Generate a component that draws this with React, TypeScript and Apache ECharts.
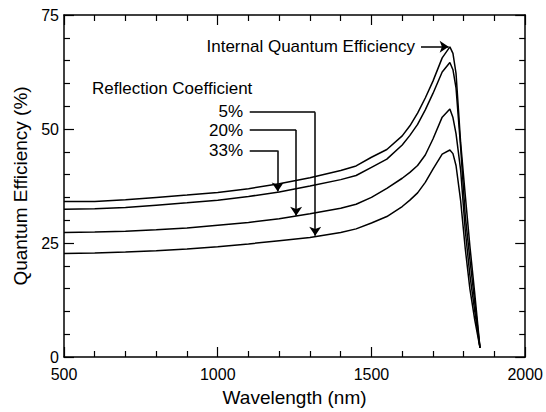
import React, { useEffect, useRef } from "react";
import * as echarts from "echarts";

// Wavelength samples (nm)
const wavelengths = [500, 600, 700, 800, 900, 1000, 1100, 1200, 1300, 1400, 1450, 1500, 1550, 1600, 1625, 1650, 1675, 1700, 1730, 1755, 1765, 1775, 1790, 1805, 1820, 1835, 1853];

// Internal quantum efficiency (%)
const internalQE = [34.1, 34.1, 34.5, 35.0, 35.5, 36.1, 36.9, 38.0, 39.3, 40.9, 41.9, 43.8, 45.5, 48.5, 50.7, 53.5, 56.8, 60.5, 65.6, 68.0, 66.6, 62.2, 47.0, 35.5, 24.4, 14.5, 2.0];
// Curves labelled by the reflection-coefficient arrows (%)
const curve33 = [32.4, 32.5, 32.8, 33.3, 33.8, 34.4, 35.2, 36.2, 37.5, 38.9, 39.8, 41.6, 43.4, 46.5, 48.6, 51.0, 54.2, 57.8, 62.5, 64.6, 63.0, 59.0, 46.0, 31.0, 21.5, 12.5, 2.0];
const curve20 = [27.3, 27.4, 27.6, 27.9, 28.3, 28.9, 29.5, 30.3, 31.4, 32.6, 33.5, 35.0, 37.0, 39.2, 40.5, 42.0, 44.3, 47.8, 52.6, 54.4, 52.5, 49.0, 41.0, 27.8, 18.0, 10.5, 2.0];
const curve5 = [22.7, 22.8, 23.0, 23.3, 23.7, 24.2, 24.8, 25.5, 26.2, 27.3, 28.1, 29.4, 30.8, 33.0, 34.4, 36.0, 38.3, 41.2, 44.5, 45.4, 44.6, 42.0, 34.3, 23.8, 15.0, 8.5, 2.0];

// Annotation arrows in data coordinates: [start, corner, tip]
const arrow5 = [[1104, 53.7], [1317, 53.7], [1317, 26.6]];
const arrow20 = [[1104, 49.8], [1255, 49.8], [1255, 31.0]];
const arrow33 = [[1104, 45.3], [1195, 45.3], [1195, 36.3]];
const arrowIQE = [[1661, 68.05], [1751, 68.05]];

const FONT = "Arial, 'Liberation Sans', Helvetica, sans-serif";

function pairs(vals: number[]) {
  return wavelengths.map((w, i) => [w, vals[i]]);
}

export default function App() {
  const ref = useRef<HTMLDivElement>(null);
  useEffect(() => {
    document.body.style.margin = "0";
    if (!ref.current) return;
    const chart = echarts.init(ref.current, null, { renderer: "svg" });
    const axisCommon = {
      type: "value" as const,
      axisLine: { show: true, onZero: false, lineStyle: { color: "#000", width: 1.5 } },
      axisTick: { show: true, inside: true, length: 10, lineStyle: { color: "#000", width: 1.2 } },
      minorTick: { show: true, splitNumber: 5, length: 6, lineStyle: { color: "#000", width: 1.2 } },
      splitLine: { show: false },
      minorSplitLine: { show: false },
    };
    const lineSeries = (name: string, vals: number[]) => ({
      name,
      type: "line",
      data: pairs(vals),
      showSymbol: false,
      symbol: "none",
      lineStyle: { color: "#000", width: 1.5 },
      silent: true,
    });
    const segs = (pts: number[][]) => {
      const out: { coords: number[][] }[] = [];
      for (let i = 0; i < pts.length - 2; i++) out.push({ coords: [pts[i], pts[i + 1]] });
      return out;
    };
    const lastSeg = (pts: number[][]) => ({ coords: [pts[pts.length - 2], pts[pts.length - 1]] });
    chart.setOption({
      animation: false,
      grid: { left: 64, right: 20, top: 15, bottom: 55 },
      xAxis: [
        {
          ...axisCommon,
          position: "bottom",
          min: 500,
          max: 2000,
          interval: 500,
          axisLabel: { color: "#000", fontSize: 16, fontFamily: FONT, margin: 9, formatter: (v: number) => String(v) },
          name: "Wavelength (nm)",
          nameLocation: "middle",
          nameGap: 31,
          nameTextStyle: { color: "#000", fontSize: 19, fontFamily: FONT },
        },
        {
          ...axisCommon,
          position: "top",
          min: 500,
          max: 2000,
          interval: 500,
          axisLabel: { show: false },
        },
      ],
      yAxis: [
        {
          ...axisCommon,
          position: "left",
          min: 0,
          max: 75,
          interval: 25,
          axisLabel: { color: "#000", fontSize: 16, fontFamily: FONT, margin: 5, padding: [0, 0, 2, 0], formatter: (v: number) => String(v) },
          name: "Quantum Efficiency (%)",
          nameLocation: "middle",
          nameGap: 32,
          nameTextStyle: { color: "#000", fontSize: 19, fontFamily: FONT },
        },
        {
          ...axisCommon,
          position: "right",
          min: 0,
          max: 75,
          interval: 25,
          axisLabel: { show: false },
        },
      ],
      series: [
        lineSeries("Internal Quantum Efficiency", internalQE),
        lineSeries("33%", curve33),
        lineSeries("20%", curve20),
        lineSeries("5%", curve5),
        {
          type: "lines",
          coordinateSystem: "cartesian2d",
          silent: true,
          symbol: "none",
          lineStyle: { color: "#000", width: 1.5, opacity: 1 },
          data: [...segs(arrow5), ...segs(arrow20), ...segs(arrow33)],
        },
        {
          type: "lines",
          coordinateSystem: "cartesian2d",
          silent: true,
          symbol: ["none", "arrow"],
          symbolSize: 9,
          lineStyle: { color: "#000", width: 1.5, opacity: 1 },
          data: [lastSeg(arrow5), lastSeg(arrow20), lastSeg(arrow33), lastSeg(arrowIQE)],
        },
      ],
      graphic: [
        { type: "text", x: 415, y: 46.5, style: { text: "Internal Quantum Efficiency", font: `17px ${FONT}`, fill: "#000", align: "right", verticalAlign: "middle" } },
        { type: "text", x: 92, y: 88.5, style: { text: "Reflection Coefficient", font: `17px ${FONT}`, fill: "#000", align: "left", verticalAlign: "middle" } },
        { type: "text", x: 243, y: 111, style: { text: "5%", font: `17px ${FONT}`, fill: "#000", align: "right", verticalAlign: "middle" } },
        { type: "text", x: 243, y: 130, style: { text: "20%", font: `17px ${FONT}`, fill: "#000", align: "right", verticalAlign: "middle" } },
        { type: "text", x: 243, y: 150, style: { text: "33%", font: `17px ${FONT}`, fill: "#000", align: "right", verticalAlign: "middle" } },
      ],
    });
    return () => chart.dispose();
  }, []);
  return <div ref={ref} style={{ width: 546, height: 412 }} />;
}
